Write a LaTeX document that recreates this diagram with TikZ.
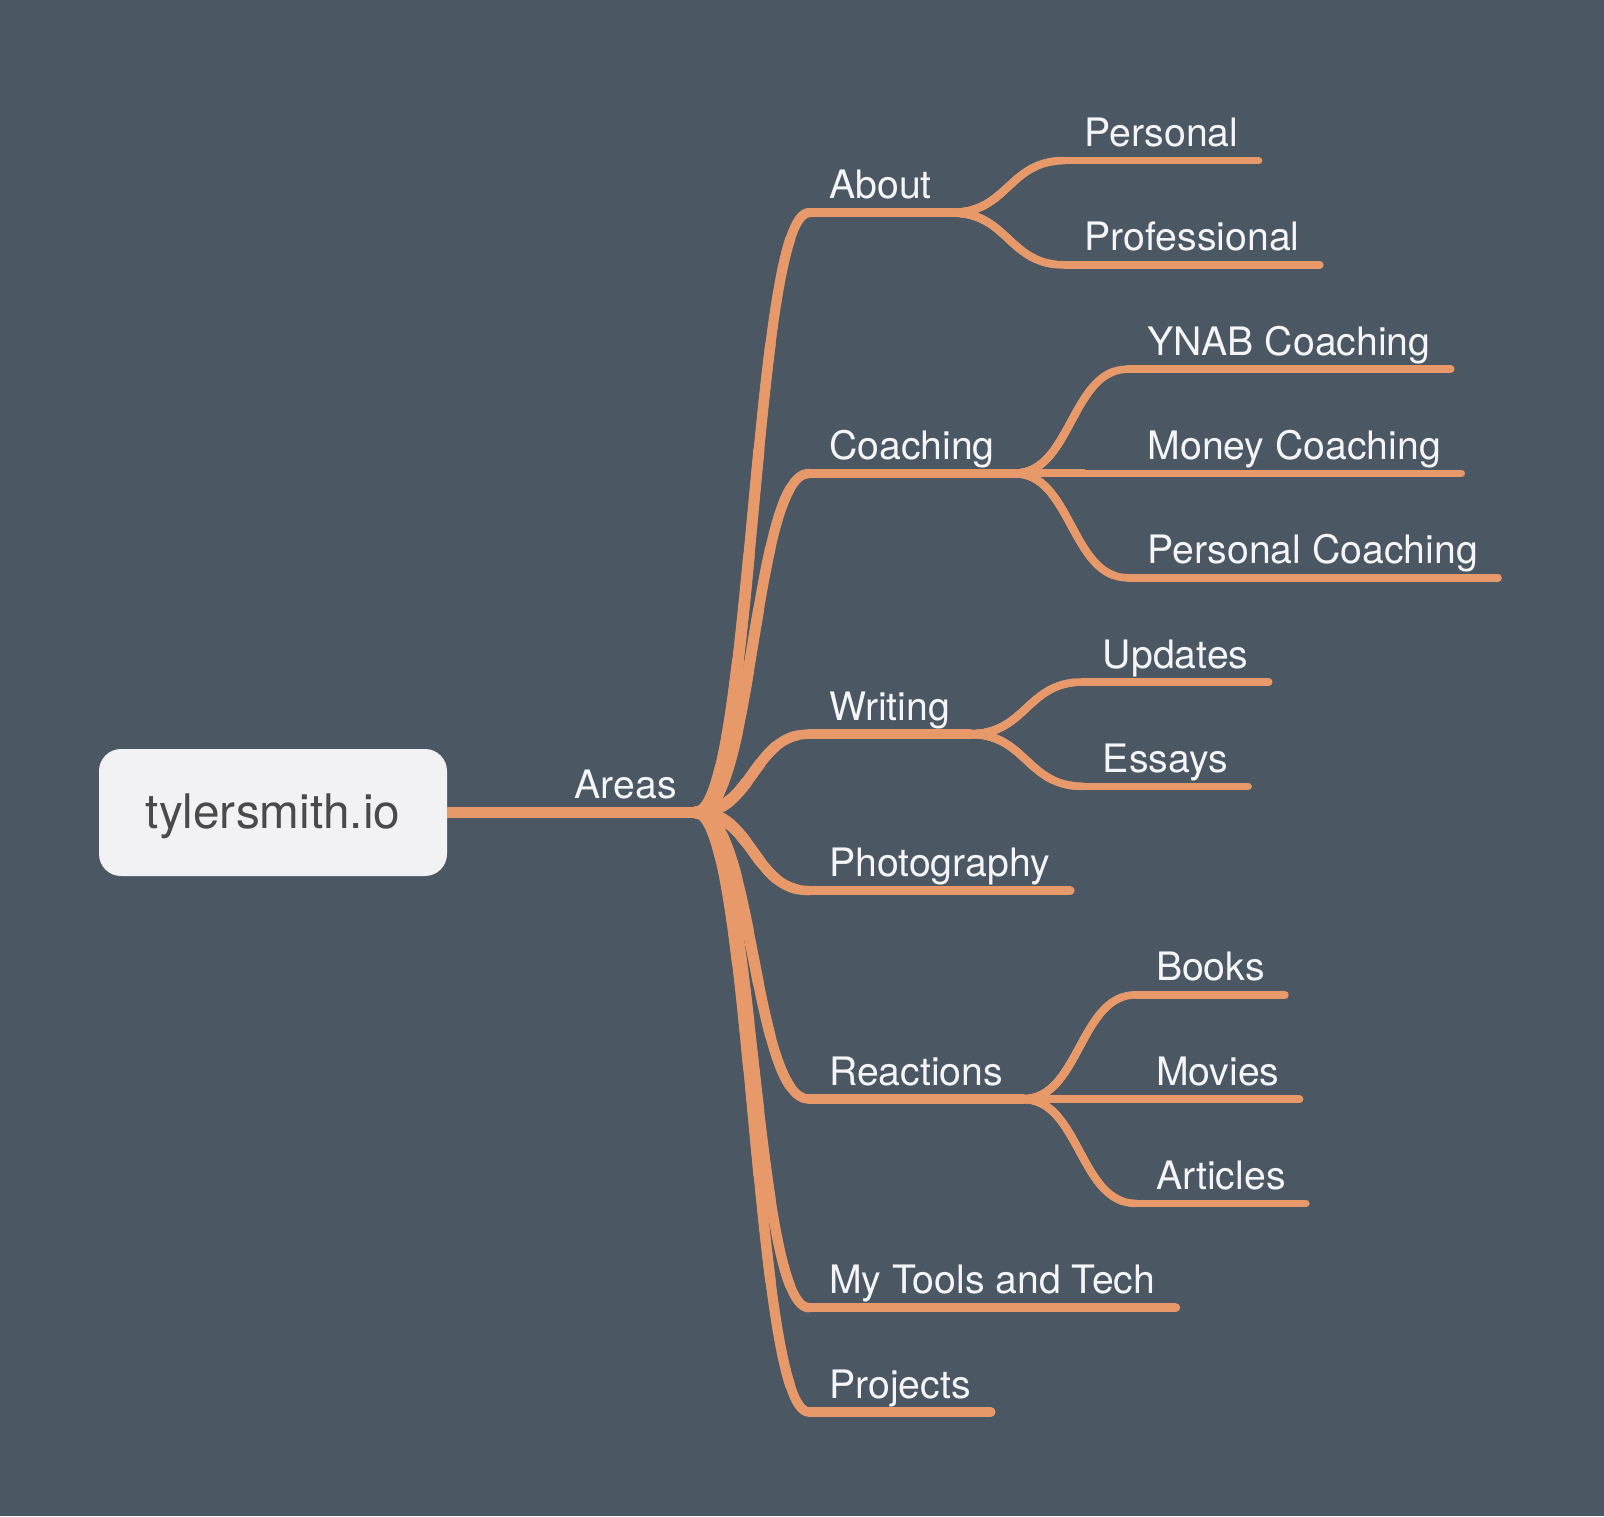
\documentclass[tikz,border=0pt]{standalone}
\usepackage{fontspec}
\setmainfont{TeX Gyre Heros}
\usetikzlibrary{calc}
\definecolor{bgc}{HTML}{4B5864}
\definecolor{branchc}{HTML}{E8996A}
\definecolor{labelc}{HTML}{F5F5F7}
\definecolor{boxc}{HTML}{F2F2F4}
\definecolor{boxtext}{HTML}{4A4A4A}
\newdimen\mmxa \newdimen\mmya \newdimen\mmxb \newdimen\mmyb
% tapered S-curve from #1 to #2, width #3 at start and #4 at end
\newcommand\mmtaper[4]{%
  \pgfextractx{\mmxa}{\pgfpointanchor{#1}{center}}%
  \pgfextracty{\mmya}{\pgfpointanchor{#1}{center}}%
  \pgfextractx{\mmxb}{\pgfpointanchor{#2}{center}}%
  \pgfextracty{\mmyb}{\pgfpointanchor{#2}{center}}%
  \pgfmathsetmacro\mmL{1.05*veclen(\mmxb-\mmxa,\mmyb-\mmya)}%
  \foreach \k in {0,...,6}{%
    \pgfmathsetmacro\mmw{#4+(#3-#4)*\k/6}%
    \ifnum\k=0 \def\mmd{8000}\else\pgfmathsetmacro\mmd{\mmL*(1-\k/6)+\mmL/12}\fi
    \draw[branch, line width=\mmw pt, dash pattern=on \mmd pt off 9000pt]
      (#1) .. controls ($(#1)!0.5!(#2 |- #1)$) and ($(#2)!0.5!(#1 |- #2)$) .. (#2);
  }%
}
% branch: parent coordinate, name, y, text, dx, start width, end width
\newcommand\mmbranch[7]{%
  \coordinate (#2E) at ($(#1 |- 0,#3)+(#5,0)$);
  \node[lbl] (#2T) at ($(#2E)+(20,-14)$) {#4};
  \mmtaper{#1}{#2E}{#6}{#7}
  \draw[branch, line width=#7pt] (#2E) -- ($(#2E -| #2T.east)+(20,0)$) coordinate (#2U);
}
\begin{document}
\begin{tikzpicture}[x=1pt,y=-1pt,
  branch/.style={draw=branchc, line cap=round, line join=round},
  lbl/.style={anchor=base west, inner sep=0pt, text=labelc, font=\fontsize{39.2}{40}\selectfont},
  rootbox/.style={fill=boxc, rounded corners=22pt, minimum width=348pt, minimum height=127pt,
    inner sep=0pt, text height=35pt, text depth=4pt, text=boxtext, font=\fontsize{47.7}{50}\selectfont}]
\fill[bgc] (0,0) rectangle (1604,1516);
\useasboundingbox (0,0) rectangle (1604,1516);
\node[rootbox] (root) at (273,812.5) {tylersmith.io};
\coordinate (J) at (697,812.4);
\node[lbl, anchor=base east] (areasT) at (677,798.4) {Areas};
\draw[branch, line width=11.5pt, line cap=butt] (root.east |- J) -- (J);
% main branches
\mmbranch{J}{about}{212.7}{About}{112}{12.5}{9.5}
\mmbranch{J}{coaching}{473.4}{Coaching}{112}{12.5}{9.5}
\mmbranch{J}{writing}{734.1}{Writing}{112}{12.5}{9.5}
\mmbranch{J}{photo}{890.6}{Photography}{112}{12.5}{9.5}
\mmbranch{J}{reactions}{1099.1}{Reactions}{112}{12.5}{9.5}
\mmbranch{J}{tools}{1307.7}{My Tools and Tech}{112}{12.5}{9.5}
\mmbranch{J}{projects}{1412.0}{Projects}{112}{12.5}{9.5}
% sub branches
\mmbranch{aboutU}{personal}{160.6}{Personal}{112.5}{8.2}{7.6}
\mmbranch{aboutU}{professional}{264.9}{Professional}{112.5}{8.2}{7.6}
\mmbranch{coachingU}{ynab}{369.2}{YNAB Coaching}{112.5}{8.2}{7.6}
\mmbranch{coachingU}{money}{473.4}{Money Coaching}{112.5}{8.2}{7.6}
\mmbranch{coachingU}{pcoach}{577.7}{Personal Coaching}{112.5}{8.2}{7.6}
\mmbranch{writingU}{updates}{682.0}{Updates}{112.5}{8.2}{7.6}
\mmbranch{writingU}{essays}{786.3}{Essays}{112.5}{8.2}{7.6}
\mmbranch{reactionsU}{books}{994.8}{Books}{112.5}{8.2}{7.6}
\mmbranch{reactionsU}{movies}{1099.1}{Movies}{112.5}{8.2}{7.6}
\mmbranch{reactionsU}{articles}{1203.4}{Articles}{112.5}{8.2}{7.6}
\end{tikzpicture}
\end{document}
